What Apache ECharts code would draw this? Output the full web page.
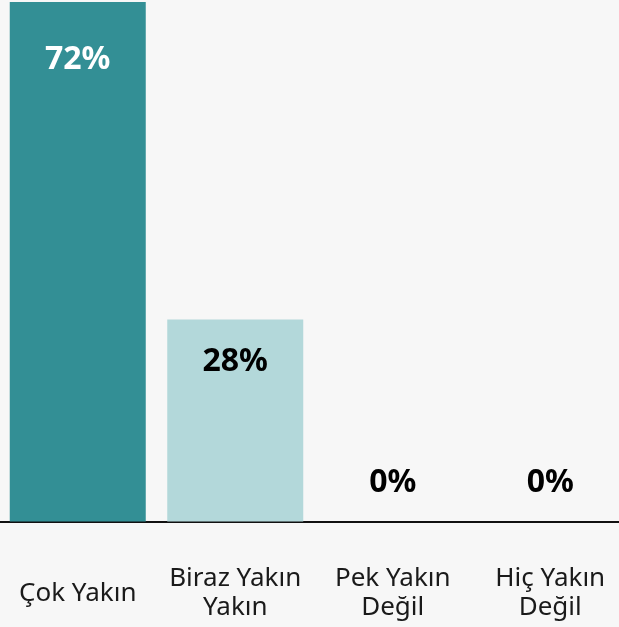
<!DOCTYPE html>
<html>
<head>
<meta charset="utf-8">
<script src="https://cdn.jsdelivr.net/npm/echarts@6/dist/echarts.min.js"></script>
<style>
  html, body { margin: 0; padding: 0; background: #f7f7f7; }
  #chart { width: 619px; height: 627px; }
</style>
</head>
<body>
<div id="chart"></div>
<script>
var categories = ['Çok Yakın', 'Biraz Yakın\nYakın', 'Pek Yakın\nDeğil', 'Hiç Yakın\nDeğil'];
var values = [72, 28, 0, 0];
var barColors = ['#338f95', '#b3d8da', '#b3d8da', '#b3d8da'];
var labelColors = ['#ffffff', '#000000', '#000000', '#000000'];

var chart = echarts.init(document.getElementById('chart'));

var seriesData = [];
for (var i = 0; i < values.length; i++) {
    var item = {
        value: values[i],
        itemStyle: { color: barColors[i] },
        label: { color: labelColors[i] }
    };
    if (values[i] === 0) {
        item.label.position = 'top';
        item.label.distance = 23;
    } else {
        item.label.position = 'insideTop';
        item.label.distance = i === 0 ? 42 : 26;
    }
    seriesData.push(item);
}

var option = {
    backgroundColor: '#f7f7f7',
    animation: false,
    grid: {
        left: -1,
        right: -10,
        top: 0,
        bottom: 105.5,
        containLabel: false,
        outerBoundsMode: 'none'
    },
    xAxis: {
        type: 'category',
        data: categories,
        axisLine: { show: true, lineStyle: { color: '#111', width: 2 } },
        axisTick: { show: false },
        axisLabel: {
            interval: 0,
            margin: 72,
            verticalAlign: 'middle',
            fontFamily: 'Noto Sans',
            fontSize: 26,
            lineHeight: 29,
            color: '#1a1a1a'
        }
    },
    yAxis: {
        type: 'value',
        min: 0,
        max: 72.28,
        show: false,
        splitLine: { show: false }
    },
    series: [
        {
            type: 'bar',
            barWidth: 136,
            data: seriesData,
            label: {
                show: true,
                formatter: '{c}%',
                fontFamily: 'Noto Sans',
                fontWeight: 'bold',
                fontSize: 32
            }
        }
    ]
};

chart.setOption(option);
</script>
</body>
</html>
